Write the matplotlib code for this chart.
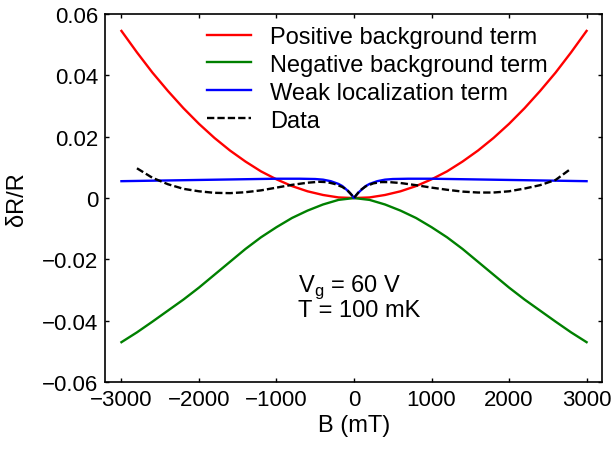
import numpy as np
import matplotlib
matplotlib.use('Agg')
import matplotlib.pyplot as plt

plt.rcParams['font.family'] = ['Liberation Sans', 'DejaVu Sans']
plt.rcParams['font.size'] = 17
plt.rcParams['mathtext.fontset'] = 'custom'
plt.rcParams['mathtext.rm'] = 'Liberation Sans'

# field values (mT) for the background terms
b_bg = [-3000, -2800, -2600, -2400, -2200, -2000, -1800, -1600, -1400, -1200, -1000, -800, -600, -400, -200,
        0, 200, 400, 600, 800, 1000, 1200, 1400, 1600, 1800, 2000, 2200, 2400, 2600, 2800, 3000]
pos_bg = [0.0545, 0.0475, 0.0409, 0.0349, 0.0293, 0.0242, 0.0196, 0.0155, 0.0119, 0.0087, 0.0061, 0.0039, 0.0022, 0.0010, 0.0002,
          0.0, 0.0002, 0.0010, 0.0022, 0.0039, 0.0061, 0.0087, 0.0119, 0.0155, 0.0196, 0.0242, 0.0293, 0.0349, 0.0409, 0.0475, 0.0545]
neg_bg = [-0.0470, -0.0438, -0.0403, -0.0367, -0.0331, -0.0292, -0.0250, -0.0208, -0.0166, -0.0128, -0.0095, -0.0065, -0.0041, -0.0021, -0.0006,
          0.0, -0.0006, -0.0021, -0.0041, -0.0065, -0.0095, -0.0128, -0.0166, -0.0208, -0.0250, -0.0292, -0.0331, -0.0367, -0.0403, -0.0438, -0.0470]

# weak localization term
b_wl = [-3000, -2500, -2000, -1500, -1000, -700, -500, -400, -300, -200, -150, -100, -50, -20,
        0, 20, 50, 100, 150, 200, 300, 400, 500, 700, 1000, 1500, 2000, 2500, 3000]
wl = [0.0055, 0.0057, 0.0059, 0.0061, 0.0063, 0.0063, 0.0062, 0.0060, 0.0055, 0.0046, 0.0039, 0.0028, 0.0016, 0.0007,
      0.0, 0.0007, 0.0016, 0.0028, 0.0039, 0.0046, 0.0055, 0.0060, 0.0062, 0.0063, 0.0063, 0.0061, 0.0059, 0.0057, 0.0055]

# measured data
b_data = [-2800, -2600, -2400, -2200, -2000, -1800, -1600, -1400, -1200, -1000, -800, -600, -450, -350, -250, -150, -80, -30,
          0, 30, 80, 150, 250, 350, 450, 600, 800, 1000, 1200, 1400, 1600, 1800, 2000, 2200, 2400, 2600, 2800]
data = [0.0097, 0.0066, 0.0045, 0.0030, 0.0022, 0.0017, 0.0016, 0.0019, 0.0025, 0.0034, 0.0043, 0.0050, 0.0053, 0.0052, 0.0046, 0.0036, 0.0024, 0.0010,
        0.0, 0.0010, 0.0025, 0.0038, 0.0048, 0.0052, 0.0052, 0.0049, 0.0042, 0.0034, 0.0027, 0.0021, 0.0018, 0.0018, 0.0022, 0.0031, 0.0042, 0.0059, 0.0096]

xticks = [-3000, -2000, -1000, 0, 1000, 2000, 3000]
xticklabels = ['\u22123000', '\u22122000', '\u22121000', '0', '1000', '2000', '3000']
yticks = [-0.06, -0.04, -0.02, 0, 0.02, 0.04, 0.06]
yticklabels = ['\u22120.06', '\u22120.04', '\u22120.02', '0', '0.02', '0.04', '0.06']

fig = plt.figure(figsize=(6.15, 4.56), dpi=100)
ax = fig.add_axes([0.171, 0.160, 0.808, 0.807])

ax.plot(b_bg, pos_bg, color='red', lw=1.7, label='Positive background term')
ax.plot(b_bg, neg_bg, color='#008000', lw=1.7, label='Negative background term')
ax.plot(b_wl, wl, color='blue', lw=1.7, label='Weak localization term')
ax.plot(b_data, data, color='black', lw=1.7, dashes=(3.1, 1.3), label='Data')

ax.set_xlim(-3210, 3200)
ax.set_ylim(-0.06, 0.06)
ax.set_xticks(xticks)
ax.set_xticklabels(xticklabels)
ax.set_yticks(yticks)
ax.set_yticklabels(yticklabels)
ax.tick_params(direction='in', length=3, width=1, top=True, right=True, labelsize=16, pad=5)
for s in ax.spines.values():
    s.set_linewidth(1.2)

ax.set_xlabel('B (mT)', labelpad=3)
ax.set_ylabel('\u03b4R/R', labelpad=10)

ax.legend(loc='upper left', bbox_to_anchor=(0.205, 0.968), borderaxespad=0, borderpad=0,
          frameon=False, handlelength=1.86, handletextpad=0.8, labelspacing=0.25, fontsize=17)

ax.text(0.388, 0.247, r'V$_\mathregular{g}$ = 60 V', transform=ax.transAxes, fontsize=17)
ax.text(0.388, 0.179, 'T = 100 mK', transform=ax.transAxes, fontsize=17)

fig.savefig('out.png', dpi=100)
